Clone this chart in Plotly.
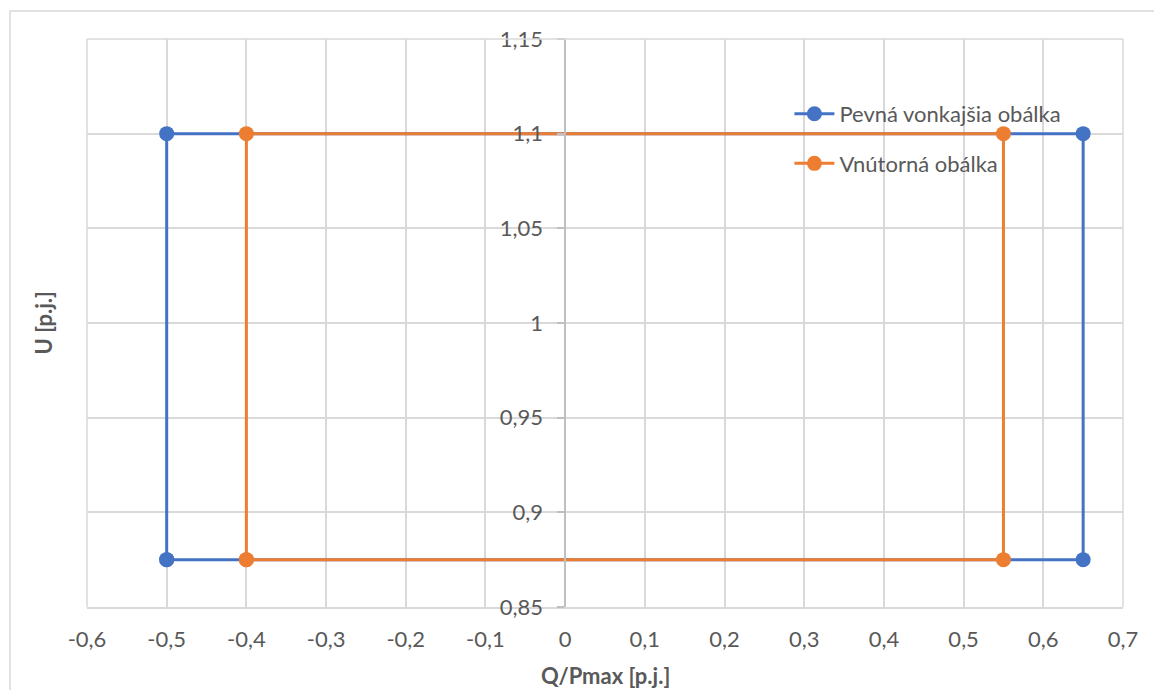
import plotly.graph_objects as go

# Data
outer_name = "Pevná vonkajšia obálka"
outer_q = [-0.5, -0.5, 0.65, 0.65, -0.5]
outer_u = [0.875, 1.1, 1.1, 0.875, 0.875]

inner_name = "Vnútorná obálka"
inner_q = [-0.4, -0.4, 0.55, 0.55, -0.4]
inner_u = [0.875, 1.1, 1.1, 0.875, 0.875]

x_tickvals = [-0.6, -0.5, -0.4, -0.3, -0.2, -0.1, 0, 0.1, 0.2, 0.3, 0.4, 0.5, 0.6, 0.7]
x_ticktext = ["-0,6", "-0,5", "-0,4", "-0,3", "-0,2", "-0,1", "0", "0,1", "0,2", "0,3", "0,4", "0,5", "0,6", "0,7"]
y_tickvals = [0.85, 0.9, 0.95, 1.0, 1.05, 1.1, 1.15]
y_ticktext = ["0,85", "0,9", "0,95", "1", "1,05", "1,1", "1,15"]

x_title = "Q/Pmax [p.j.]"
y_title = "U [p.j.]"

BLUE = "#4472C4"
ORANGE = "#ED7D31"
GRID = "#D9D9D9"
TEXT = "#595959"
FONT = "Lato"
FS = 22

fig = go.Figure()
fig.add_trace(go.Scatter(x=outer_q, y=outer_u, mode="lines+markers", name=outer_name,
                         legendgroup="a",
                         line=dict(color=BLUE, width=3),
                         marker=dict(color=BLUE, size=15)))
fig.add_trace(go.Scatter(x=inner_q, y=inner_u, mode="lines+markers", name=inner_name,
                         legendgroup="b",
                         line=dict(color=ORANGE, width=3),
                         marker=dict(color=ORANGE, size=15)))

xmin, xmax = x_tickvals[0], x_tickvals[-1]
zero_pos = (0 - xmin) / (xmax - xmin)

fig.update_layout(
    width=1154, height=682,
    margin=dict(l=79, r=39, t=31, b=83),
    paper_bgcolor="white", plot_bgcolor="white",
    font=dict(family=FONT, size=FS, color=TEXT),
    showlegend=True,
    legend=dict(x=0.678, y=0.905, xanchor="left", yanchor="top",
                bgcolor="rgba(0,0,0,0)", font=dict(size=FS, color=TEXT),
                tracegroupgap=18, itemwidth=40),
    xaxis=dict(range=[xmin, xmax], tickvals=x_tickvals, ticktext=x_ticktext,
               showgrid=True, gridcolor=GRID, gridwidth=1.5,
               zeroline=False, showline=True, linecolor=GRID, linewidth=1.5,
               mirror=False, ticks="", ticklabelstandoff=12,
               tickfont=dict(size=FS, color=TEXT)),
    yaxis=dict(range=[y_tickvals[0], y_tickvals[-1]], tickvals=y_tickvals, ticktext=y_ticktext,
               showgrid=True, gridcolor=GRID, gridwidth=1.5,
               zeroline=False, showline=True, linecolor="#BFBFBF", linewidth=1.5,
               anchor="free", position=zero_pos,
               ticks="outside", ticklen=7, tickcolor="#BFBFBF", tickwidth=1.5,
               ticklabelstandoff=10,
               tickfont=dict(size=FS, color=TEXT)),
)

# Axis titles
fig.add_annotation(text="<b>" + x_title + "</b>", xref="paper", yref="paper",
                   x=0.5, y=-0.121, xanchor="center", yanchor="middle",
                   showarrow=False, font=dict(size=FS, color=TEXT))
fig.add_annotation(text="<b>" + y_title + "</b>", xref="paper", yref="paper",
                   x=-0.042, y=0.5, xanchor="center", yanchor="middle",
                   textangle=-90, showarrow=False, font=dict(size=FS, color=TEXT))

# Right, top and left border of plot area
fig.add_shape(type="line", xref="paper", yref="paper", x0=1, x1=1, y0=0, y1=1,
              line=dict(color=GRID, width=1.5))
fig.add_shape(type="line", xref="paper", yref="paper", x0=0, x1=1, y0=1, y1=1,
              line=dict(color=GRID, width=1.5))
fig.add_shape(type="line", xref="paper", yref="paper", x0=0, x1=0, y0=0, y1=1,
              line=dict(color=GRID, width=1.5))

# Chart outer border (partially cropped in the reference)
fig.add_shape(type="rect", xref="paper", yref="paper", x0=-0.0743, x1=1.2, y0=-0.3, y1=1.0493,
              line=dict(color=GRID, width=1.5), layer="below")

fig.write_html("out.html")
